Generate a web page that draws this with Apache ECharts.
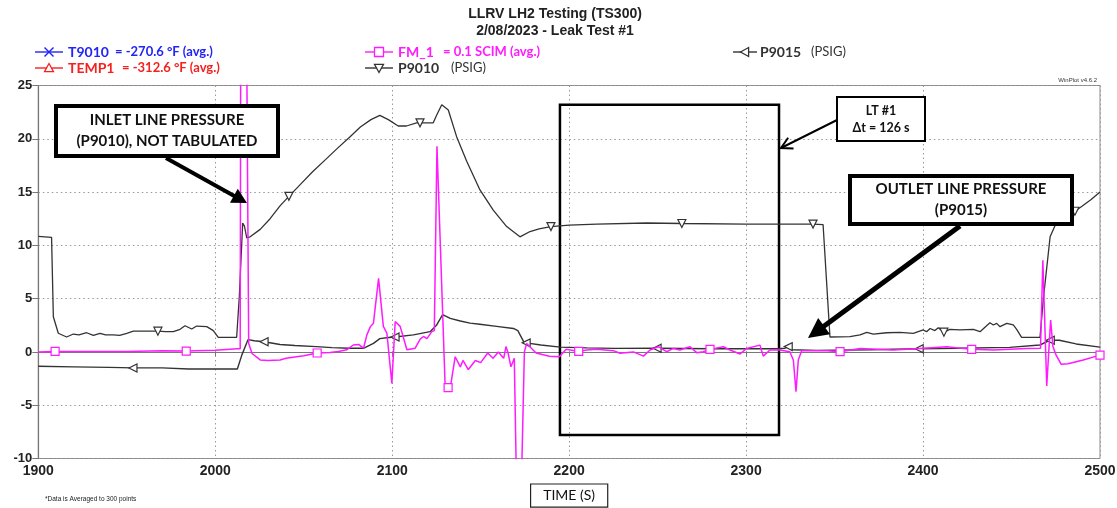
<!DOCTYPE html>
<html>
<head>
<meta charset="utf-8">
<script src="https://cdn.jsdelivr.net/npm/echarts@6/dist/echarts.min.js"></script>
<style>
  html, body { margin: 0; padding: 0; background: #fff; }
  #chart { width: 1117px; height: 508px; }
</style>
</head>
<body>
<div id="chart"></div>
<script>
// ---- chart text ----
const titleLines = ['LLRV LH2 Testing (TS300)', '2/08/2023 - Leak Test #1'];
const xTicks = [1900, 2000, 2100, 2200, 2300, 2400, 2500];
const yTicks = [-10, -5, 0, 5, 10, 15, 20, 25];
const xAxisTitle = 'TIME (S)';
const footNote = '*Data is Averaged to 300 points';
const versionTag = 'WinPlot v4.6.2';

// legend entries: name, note
const legendNames = ['T9010', 'TEMP1', 'FM_1', 'P9010', 'P9015'];
const legendNotes = ['= -270.6 \u00B0F (avg.)', '= -312.6 \u00B0F (avg.)', '= 0.1 SCIM (avg.)', '(PSIG)', '(PSIG)'];

// annotation texts
const inletNote = ['INLET LINE PRESSURE', '(P9010), NOT TABULATED'];
const outletNote = ['OUTLET LINE PRESSURE', '(P9015)'];
const ltNote = ['LT #1', '\u0394t = 126 s'];
const ltWindow = [2194.8, 2318.6];      // leak-test window, seconds
const ltRange = [-7.8, 23.2];           // vertical extent of the window box

// ---- series data: [time (s), value] ----
const p9010 = [
  [1900,10.85],[1907.5,10.75],[1908.5,3.3],[1911.3,1.75],[1916,1.4],[1919.8,1.68],[1923,1.6],
  [1927.3,1.8],[1931.1,1.55],[1934.9,1.75],[1938,1.6],[1942.4,1.6],[1946,1.55],[1950,1.75],
  [1953.7,1.95],[1960,1.95],[1967.6,1.95],[1972,1.9],[1976.3,1.9],[1980.1,2.12],[1982.9,2.46],
  [1986.7,2.15],[1989.5,2.43],[1995.2,2.37],[1998.9,2.0],[2001.7,1.37],[2012.1,1.37],[2013.6,5.2],
  [2015.5,12.1],[2016.5,11.8],[2017.8,10.7],[2019.7,10.8],[2025.4,11.5],[2031,12.5],[2036.6,13.7],
  [2041.6,14.6],[2048,15.7],[2055,16.9],[2062,18.0],[2069,19.1],[2076.2,20.2],[2082,21.1],
  [2088,21.8],[2093,22.2],[2097.8,21.8],[2103.4,21.2],[2108,21.2],[2113.8,21.5],[2115.7,21.5],
  [2123.2,21.5],[2125.1,22.2],[2128,23.2],[2131.7,22.7],[2136.4,20.2],[2142.1,17.9],[2149.6,15.2],
  [2157.1,13.3],[2164.7,11.76],[2172.2,10.8],[2177.9,11.3],[2183,11.55],[2189.7,11.76],[2200,11.9],
  [2215.6,12.0],[2243.8,12.1],[2263.7,12.05],[2300,12.0],[2337.8,12.0],[2343.5,11.95],[2347.4,1.4],
  [2358.7,1.43],[2364.4,1.6],[2368.2,1.84],[2371.9,1.68],[2379.5,1.8],[2387,1.84],[2394.5,1.75],
  [2400.1,2.06],[2402,1.9],[2404,2.2],[2406.7,2.0],[2408.6,2.27],[2411.8,1.85],[2415.2,2.12],
  [2420.9,2.06],[2428.4,2.12],[2432.2,1.9],[2437.8,2.74],[2439.7,2.53],[2441.6,2.68],[2443.5,2.37],
  [2447.3,2.68],[2451,2.53],[2452.9,2.12],[2455.7,1.37],[2466.1,1.37],[2468,5.0],[2471.8,10.8],
  [2475,12.0],[2480,12.4],[2485.8,13.2],[2490,13.7],[2495,14.3],[2500,15.0]
];

const p9015 = [
  [1900,-1.35],[1920,-1.4],[1940,-1.45],[1953.5,-1.5],[1970,-1.5],[1985,-1.6],[2000,-1.6],
  [2012.5,-1.6],[2015,-0.3],[2018.5,1.15],[2022,1.05],[2027.6,0.95],[2036.6,0.7],[2045,0.6],
  [2057,0.5],[2066,0.4],[2076,0.35],[2084,0.35],[2089.4,0.8],[2093,1.25],[2098,1.35],
  [2101.6,1.4],[2112,1.6],[2121.4,1.9],[2125,2.5],[2128.5,3.5],[2132.8,3.15],[2138.5,2.9],
  [2144,2.7],[2149.5,2.6],[2159,2.4],[2168.5,2.2],[2171,2.0],[2174.5,0.9],[2175.7,0.85],
  [2184,0.65],[2195,0.45],[2210,0.38],[2225.7,0.33],[2249.7,0.35],[2280,0.3],[2318,0.3],
  [2322,0.35],[2323.8,0.5],[2325.5,0.2],[2340,0.15],[2370,0.2],[2397.8,0.3],[2420,0.35],
  [2449,0.43],[2466,0.65],[2471.9,1.1],[2477,1.1],[2486.5,0.75],[2500,0.45]
];

const fm1 = [
  [1900,0.0],[1909.5,0.05],[1930,0.05],[1950,0.05],[1970,0.1],[1983.6,0.08],[2000,0.15],
  [2012.5,0.3],[2014.1,0.3],[2014.5,40],[2017.3,40],[2018.9,0.8],[2020.8,-0.15],[2025.4,-0.75],
  [2030,-0.8],[2036.6,-0.75],[2040,-0.6],[2050,-0.35],[2057.6,-0.1],[2064.9,-0.05],[2069.5,0.05],
  [2074.3,0.2],[2078,0.65],[2081,0.7],[2083.8,0.35],[2085.7,1.6],[2087.6,2.35],[2089.4,2.7],
  [2092.3,6.9],[2095,2.4],[2097,1.75],[2099.8,-2.95],[2101.7,2.85],[2104.5,2.4],[2106.4,1.3],
  [2108.3,0.2],[2113,0.35],[2115.8,1.2],[2117.7,1.45],[2119.6,1.25],[2122.4,1.9],[2123.8,2.0],
  [2125.3,19.3],[2130,-3.6],[2131.6,-3.35],[2132.8,-3.4],[2135.6,-0.45],[2138.5,-1.4],[2140,-0.8],
  [2143,-1.65],[2147,-0.8],[2150,-1.0],[2154,-0.1],[2157,-0.6],[2160,0.0],[2163,-0.6],
  [2164.3,0.5],[2165.5,-0.1],[2167.1,-1.4],[2169,-0.6],[2170.4,-14],[2172.8,-14],[2174.7,0.0],
  [2176,0.8],[2181.3,-0.1],[2188.8,-0.4],[2194.5,-0.45],[2198.3,0.25],[2205.4,0.05],[2209.9,0.18],
  [2215.6,0.24],[2225,0.12],[2228.7,-0.13],[2236.3,0.0],[2242,-0.39],[2245.7,0.18],[2250.4,0.49],
  [2255.1,0.02],[2258.9,0.33],[2262.6,0.18],[2268.3,0.49],[2272.1,-0.07],[2275.8,0.02],[2279.6,0.24],
  [2287.1,0.49],[2290.9,0.18],[2296.6,-0.19],[2300.3,0.33],[2307.8,0.64],[2309.7,-0.39],[2313.5,0.18],
  [2319.1,0.18],[2324.7,0.02],[2326.7,-0.76],[2328.2,-3.73],[2329.5,-0.76],[2331.4,0.12],[2345.6,0.12],
  [2353.1,0.02],[2364.4,0.33],[2383.2,0.18],[2398.3,0.33],[2413.4,0.49],[2427.5,0.24],[2439.7,0.18],
  [2458.6,0.33],[2466.4,0.35],[2467.7,8.6],[2469.9,-3.2],[2472.1,3.0],[2473.4,0.5],[2475.2,-0.3],
  [2478,-1.15],[2482,-1.1],[2490.5,-0.75],[2500,-0.3]
];

// ---- styling ----
const colors = { blue: '#2323f5', red: '#f52020', magenta: '#ff1aff', dark: '#333333', text: '#222222' };
const legendColors = [colors.blue, colors.red, colors.magenta, colors.dark, colors.dark];
const legendSymbols = ['cross', 'triUp', 'square', 'triDown', 'triLeft'];
const uiFont = 'Lato, "Open Sans", sans-serif';
const axisFont = '"Liberation Sans", Arial, sans-serif';

// a marker every 74 s along each trace, as the plotting tool does
const markEvery = 74;
function markerIndices(data, first) {
  const set = new Set();
  for (let t = first; t <= xTicks[xTicks.length - 1] + 2; t += markEvery) {
    let best = -1, bestD = 3;
    data.forEach((d, i) => { const dd = Math.abs(d[0] - t); if (dd < bestD) { bestD = dd; best = i; } });
    if (best >= 0) set.add(best);
  }
  return set;
}
const p9010Marks = markerIndices(p9010, 1967.6);
const p9015Marks = markerIndices(p9015, 1953.5);
const fm1Marks = markerIndices(fm1, 1909.5);

function traceSeries(name, data, color, width, symbol, rotate, marks, z) {
  return {
    name, type: 'line', data, z,
    clip: true, animation: false, silent: true,
    showSymbol: true, showAllSymbol: true,
    symbol, symbolRotate: rotate,
    symbolSize: (v, p) => marks.has(p.dataIndex) ? 8 : 0,
    lineStyle: { color, width },
    itemStyle: { color: '#fff', borderColor: color, borderWidth: 1.2 }
  };
}

// ---- overlay graphics (legend, call-outs, arrows) ----
const graphics = [];

function symbolShape(kind, cx, cy, color) {
  const s = 4.5;
  const base = { style: { fill: '#fff', stroke: color, lineWidth: 1.3 }, z: 10 };
  if (kind === 'cross') {
    return [
      { type: 'line', shape: { x1: cx - s, y1: cy - s, x2: cx + s, y2: cy + s }, style: { stroke: color, lineWidth: 1.4 }, z: 10 },
      { type: 'line', shape: { x1: cx - s, y1: cy + s, x2: cx + s, y2: cy - s }, style: { stroke: color, lineWidth: 1.4 }, z: 10 }
    ];
  }
  if (kind === 'square') return [Object.assign({ type: 'rect', shape: { x: cx - s, y: cy - s, width: 2 * s, height: 2 * s } }, base)];
  let pts;
  if (kind === 'triUp') pts = [[cx, cy - s], [cx + s, cy + s * 0.8], [cx - s, cy + s * 0.8]];
  if (kind === 'triDown') pts = [[cx, cy + s], [cx + s, cy - s * 0.8], [cx - s, cy - s * 0.8]];
  if (kind === 'triLeft') pts = [[cx - s, cy], [cx + s * 0.8, cy - s], [cx + s * 0.8, cy + s]];
  return [Object.assign({ type: 'polygon', shape: { points: pts } }, base)];
}

// legend slot layout: line start, row y, name x, note x
const legendSlots = [
  { x: 35, y: 52, nameX: 68, noteX: 115 },
  { x: 35, y: 68, nameX: 68, noteX: 122 },
  { x: 365, y: 52, nameX: 398, noteX: 443 },
  { x: 365, y: 68, nameX: 398, noteX: 451 },
  { x: 733, y: 52, nameX: 760, noteX: 811 }
];
legendNames.forEach((name, i) => {
  const slot = legendSlots[i], col = legendColors[i];
  const len = i === 4 ? 24 : 28;
  graphics.push({ type: 'line', shape: { x1: slot.x, y1: slot.y, x2: slot.x + len, y2: slot.y }, style: { stroke: col, lineWidth: 1.4 }, z: 9 });
  graphics.push(...symbolShape(legendSymbols[i], slot.x + len / 2, slot.y, col));
  graphics.push({ type: 'text', x: slot.nameX, y: slot.y, style: { text: name, fill: col, font: 'bold 14px ' + uiFont, verticalAlign: 'middle' } });
  graphics.push({ type: 'text', x: slot.noteX, y: slot.y, style: { text: legendNotes[i], fill: col, font: (i >= 3 ? 'normal' : 'bold') + ' 13px ' + uiFont, verticalAlign: 'middle' } });
});

function calloutBox(x, y, w, h, lines, fontSize, lw, lineH) {
  graphics.push({ type: 'rect', shape: { x, y, width: w, height: h }, style: { fill: '#fff', stroke: '#000', lineWidth: lw }, z: 20 });
  graphics.push({
    type: 'text', x: x + w / 2, y: y + h / 2, z: 21,
    style: { text: lines.join('\n'), fill: '#111', font: 'bold ' + fontSize + 'px ' + uiFont, align: 'center', verticalAlign: 'middle', lineHeight: lineH }
  });
}

function arrow(x1, y1, x2, y2, lw, headLen, headHalf, open) {
  const ang = Math.atan2(y2 - y1, x2 - x1);
  const ux = Math.cos(ang), uy = Math.sin(ang);
  const bx = x2 - ux * headLen, by = y2 - uy * headLen;
  const px = -uy, py = ux;
  if (open) {
    graphics.push({ type: 'line', shape: { x1, y1, x2, y2 }, style: { stroke: '#000', lineWidth: lw }, z: 20 });
    graphics.push({ type: 'polyline', shape: { points: [[bx + px * headHalf, by + py * headHalf], [x2, y2], [bx - px * headHalf, by - py * headHalf]] }, style: { stroke: '#000', lineWidth: lw, fill: null }, z: 20 });
  } else {
    graphics.push({ type: 'line', shape: { x1, y1, x2: bx + ux * 2, y2: by + uy * 2 }, style: { stroke: '#000', lineWidth: lw }, z: 20 });
    graphics.push({ type: 'polygon', shape: { points: [[bx + px * headHalf, by + py * headHalf], [x2, y2], [bx - px * headHalf, by - py * headHalf]] }, style: { fill: '#000' }, z: 20 });
  }
}

calloutBox(56, 106, 222, 50, inletNote, 15, 4, 21);
arrow(166, 158, 247, 203, 4, 15, 8, false);

calloutBox(837, 97, 88, 44, ltNote, 12.5, 2, 17);
arrow(837, 120, 781, 148, 2, 11, 6, true);

calloutBox(850, 176, 222, 48, outletNote, 15, 4, 21);
arrow(960, 226, 808, 338, 5, 20, 10, false);

graphics.push({ type: 'text', x: 1097, y: 80, style: { text: versionTag, fill: '#333', font: '6px ' + axisFont, align: 'right', verticalAlign: 'middle' } });
graphics.push({ type: 'text', x: 45, y: 499, style: { text: footNote, fill: '#222', font: '6.5px ' + axisFont, verticalAlign: 'middle' } });

// ---- chart ----
const chart = echarts.init(document.getElementById('chart'), null, { renderer: 'canvas' });
chart.setOption({
  backgroundColor: '#fff',
  animation: false,
  title: {
    text: titleLines.join('\n'), left: 550, top: 1, textAlign: 'center',
    textStyle: { fontFamily: axisFont, fontSize: 14, fontWeight: 'bold', color: '#222', lineHeight: 16.5 }
  },
  grid: {
    left: 38.3, right: 17, top: 85.5, bottom: 49.5,
    show: true, borderColor: '#8a8a8a', borderWidth: 1, backgroundColor: 'transparent',
    containLabel: false, outerBoundsMode: 'none'
  },
  xAxis: {
    type: 'value', min: xTicks[0], max: xTicks[xTicks.length - 1], interval: 100,
    axisLine: { show: true, lineStyle: { color: '#777', width: 1.2 } },
    axisTick: { show: true, length: 4, lineStyle: { color: '#777' } },
    axisLabel: { margin: 6, color: '#222', fontFamily: axisFont, fontWeight: 'bold', fontSize: 14, formatter: v => String(v) },
    splitLine: { show: true, lineStyle: { color: '#999', type: [1.5, 3], width: 1 } },
    name: xAxisTitle, nameLocation: 'middle', nameGap: 25,
    nameTextStyle: {
      fontFamily: uiFont, fontSize: 14, color: '#111',
      borderColor: '#222', borderWidth: 1.2, padding: [4, 12, 4, 12], backgroundColor: '#fff'
    }
  },
  yAxis: {
    type: 'value', min: yTicks[0], max: yTicks[yTicks.length - 1], interval: 5,
    axisLine: { show: true, lineStyle: { color: '#777', width: 1.2 } },
    axisTick: { show: true, length: 6, lineStyle: { color: '#777' } },
    axisLabel: { margin: 6, color: '#222', fontFamily: axisFont, fontWeight: 'bold', fontSize: 13, formatter: v => String(v) },
    splitLine: { show: true, lineStyle: { color: '#999', type: [1.5, 3], width: 1 } }
  },
  series: [
    traceSeries('P9010', p9010, colors.dark, 1.3, 'triangle', 180, p9010Marks, 3),
    traceSeries('P9015', p9015, colors.dark, 1.4, 'triangle', 90, p9015Marks, 3),
    Object.assign(traceSeries('FM_1', fm1, colors.magenta, 1.5, 'rect', 0, fm1Marks, 4), {
      markArea: {
        silent: true,
        itemStyle: { color: 'rgba(0,0,0,0)', borderColor: '#000', borderWidth: 2.5 },
        data: [[{ xAxis: ltWindow[0], yAxis: ltRange[1] }, { xAxis: ltWindow[1], yAxis: ltRange[0] }]]
      }
    })
  ],
  graphic: graphics
});
</script>
</body>
</html>
